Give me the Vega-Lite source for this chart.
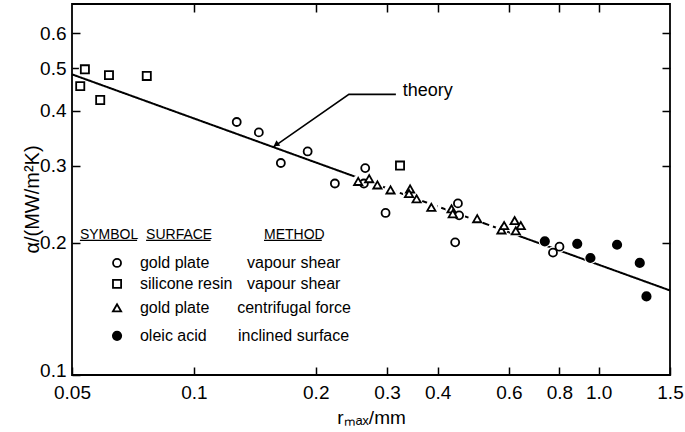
{
  "$schema": "https://vega.github.io/schema/vega-lite/v6.json",
  "width": 598,
  "height": 371,
  "autosize": {"type": "none"},
  "padding": {"left": 72, "top": 4, "right": 15, "bottom": 57},
  "background": "white",
  "config": {
    "view": {"stroke": "black", "strokeWidth": 1.8},
    "font": "Liberation Sans",
    "axis": {
      "domain": false, "grid": false,
      "tickColor": "black", "tickWidth": 1.5,
      "labelColor": "black", "titleColor": "black",
      "labelFont": "Liberation Sans", "titleFont": "Liberation Sans",
      "labelFontSize": 19, "titleFontSize": 19, "titleFontWeight": "normal"
    }
  },
  "datasets": {
    "points": [
      {"type": "silicone", "r": 0.0538, "a": 0.497},
      {"type": "silicone", "r": 0.0524, "a": 0.455},
      {"type": "silicone", "r": 0.0617, "a": 0.482},
      {"type": "silicone", "r": 0.0587, "a": 0.423},
      {"type": "silicone", "r": 0.0765, "a": 0.480},
      {"type": "silicone", "r": 0.323, "a": 0.300},
      {"type": "gold_vapour", "r": 0.1276, "a": 0.377},
      {"type": "gold_vapour", "r": 0.1447, "a": 0.357},
      {"type": "gold_vapour", "r": 0.164, "a": 0.304},
      {"type": "gold_vapour", "r": 0.191, "a": 0.323},
      {"type": "gold_vapour", "r": 0.223, "a": 0.273},
      {"type": "gold_vapour", "r": 0.265, "a": 0.296},
      {"type": "gold_vapour", "r": 0.263, "a": 0.273},
      {"type": "gold_vapour", "r": 0.2975, "a": 0.234},
      {"type": "gold_vapour", "r": 0.449, "a": 0.246},
      {"type": "gold_vapour", "r": 0.452, "a": 0.231},
      {"type": "gold_vapour", "r": 0.442, "a": 0.2005},
      {"type": "gold_vapour", "r": 0.771, "a": 0.190},
      {"type": "gold_vapour", "r": 0.80, "a": 0.196},
      {"type": "gold_centrifugal", "r": 0.2546, "a": 0.276},
      {"type": "gold_centrifugal", "r": 0.271, "a": 0.280},
      {"type": "gold_centrifugal", "r": 0.284, "a": 0.271},
      {"type": "gold_centrifugal", "r": 0.306, "a": 0.264},
      {"type": "gold_centrifugal", "r": 0.342, "a": 0.2654},
      {"type": "gold_centrifugal", "r": 0.340, "a": 0.259},
      {"type": "gold_centrifugal", "r": 0.355, "a": 0.252},
      {"type": "gold_centrifugal", "r": 0.386, "a": 0.241},
      {"type": "gold_centrifugal", "r": 0.433, "a": 0.239},
      {"type": "gold_centrifugal", "r": 0.436, "a": 0.233},
      {"type": "gold_centrifugal", "r": 0.501, "a": 0.227},
      {"type": "gold_centrifugal", "r": 0.575, "a": 0.214},
      {"type": "gold_centrifugal", "r": 0.584, "a": 0.219},
      {"type": "gold_centrifugal", "r": 0.620, "a": 0.2247},
      {"type": "gold_centrifugal", "r": 0.642, "a": 0.219},
      {"type": "gold_centrifugal", "r": 0.624, "a": 0.213},
      {"type": "oleic", "r": 0.736, "a": 0.2016},
      {"type": "oleic", "r": 0.885, "a": 0.199},
      {"type": "oleic", "r": 0.954, "a": 0.1847},
      {"type": "oleic", "r": 1.11, "a": 0.198},
      {"type": "oleic", "r": 1.263, "a": 0.180},
      {"type": "oleic", "r": 1.312, "a": 0.151}
    ],
    "theory": [
      {"seg": "solid1", "style": "solid", "r": 0.05, "a": 0.484},
      {"seg": "solid1", "style": "solid", "r": 0.255, "a": 0.2812},
      {"seg": "dash", "style": "dash", "r": 0.255, "a": 0.2812},
      {"seg": "dash", "style": "dash", "r": 0.6, "a": 0.2114},
      {"seg": "solid2", "style": "solid", "r": 0.6, "a": 0.2114},
      {"seg": "solid2", "style": "solid", "r": 1.5, "a": 0.1558}
    ],
    "leader": [
      {"k": 1, "r": 0.157, "a": 0.3305},
      {"k": 2, "r": 0.2415, "a": 0.4358},
      {"k": 3, "r": 0.3155, "a": 0.4358}
    ],
    "arrowhead": [{"r": 0.1595, "a": 0.3348}],
    "label": [{"text": "theory", "r": 0.328, "a": 0.4428}],
    "headers": [
      {"text": "SYMBOL", "r": 0.0523, "r2": 0.0724, "a": 0.2087, "u": 0.2026},
      {"text": "SURFACE", "r": 0.0762, "r2": 0.110, "a": 0.2087, "u": 0.2026},
      {"text": "METHOD", "r": 0.149, "r2": 0.207, "a": 0.2087, "u": 0.2026}
    ],
    "legsym": [
      {"type": "gold_vapour", "r": 0.0646, "a": 0.180},
      {"type": "silicone", "r": 0.0646, "a": 0.1613},
      {"type": "gold_centrifugal", "r": 0.0646, "a": 0.1422},
      {"type": "oleic", "r": 0.0646, "a": 0.1228}
    ],
    "legtext": [
      {"text": "gold plate", "r": 0.0736, "a": 0.180},
      {"text": "silicone resin", "r": 0.0736, "a": 0.1613},
      {"text": "gold plate", "r": 0.0736, "a": 0.1422},
      {"text": "oleic acid", "r": 0.0736, "a": 0.1228},
      {"text": "vapour shear", "r": 0.1353, "a": 0.180},
      {"text": "vapour shear", "r": 0.1353, "a": 0.1613},
      {"text": "centrifugal force", "r": 0.1279, "a": 0.1422},
      {"text": "inclined surface", "r": 0.1285, "a": 0.1228}
    ]
  },
  "resolve": {"axis": {"x": "independent", "y": "independent"}},
  "layer": [
    {
      "data": {"name": "theory"},
      "mark": {"type": "line", "color": "black", "strokeWidth": 2},
      "encoding": {
        "x": {"field": "r", "type": "quantitative",
          "scale": {"type": "log", "domain": [0.05, 1.5], "nice": false, "zero": false},
          "axis": {
            "orient": "bottom",
            "values": [0.05, 0.1, 0.2, 0.3, 0.4, 0.6, 0.8, 1.0, 1.5],
            "labelExpr": "datum.value == 1 ? '1.0' : format(datum.value, '.2~f')",
            "tickSize": -8, "labelPadding": 16, "labelFlush": false,
            "title": "rₘₐₓ/mm", "titleY": 48, "titleBaseline": "alphabetic"
          }},
        "y": {"field": "a", "type": "quantitative",
          "scale": {"type": "log", "domain": [0.1, 0.7], "nice": false, "zero": false},
          "axis": {
            "orient": "left",
            "values": [0.1, 0.2, 0.3, 0.4, 0.5, 0.6],
            "format": ".1f",
            "tickSize": -8, "labelPadding": 14, "labelFlush": false,
            "labelOffset": {"condition": {"test": "datum.value < 0.15", "value": -5}, "value": 0},
            "title": "α/(MW/m²K)", "titleX": -34, "titleY": 195,
            "titleAlign": "center", "titleBaseline": "alphabetic", "titleAngle": 270,
            "titleFontSize": 20
          }},
        "detail": {"field": "seg"},
        "strokeDash": {"field": "style", "type": "nominal",
          "scale": {"domain": ["solid", "dash"], "range": [[1, 0], [7, 4]]}, "legend": null}
      }
    },
    {
      "data": {"name": "leader"},
      "mark": {"type": "line", "color": "black", "strokeWidth": 1.6},
      "encoding": {
        "x": {"field": "r", "type": "quantitative", "scale": {"type": "log"},
          "axis": {"orient": "top", "values": [0.1, 0.2, 0.3, 0.4, 0.6, 0.8, 1.0], "labels": false, "tickSize": -8, "title": null}},
        "y": {"field": "a", "type": "quantitative", "scale": {"type": "log"},
          "axis": {"orient": "right", "values": [0.2, 0.3, 0.4, 0.5, 0.6], "labels": false, "tickSize": -8, "title": null}},
        "order": {"field": "k"}
      }
    },
    {
      "data": {"name": "arrowhead"},
      "mark": {"type": "point", "shape": "triangle-up", "filled": true, "color": "black", "size": 45, "angle": 236, "opacity": 1},
      "encoding": {
        "x": {"field": "r", "type": "quantitative", "scale": {"type": "log"}, "axis": null},
        "y": {"field": "a", "type": "quantitative", "scale": {"type": "log"}, "axis": null}
      }
    },
    {
      "data": {"name": "label"},
      "mark": {"type": "text", "align": "left", "baseline": "middle", "fontSize": 18, "color": "black"},
      "encoding": {
        "x": {"field": "r", "type": "quantitative", "scale": {"type": "log"}, "axis": null},
        "y": {"field": "a", "type": "quantitative", "scale": {"type": "log"}, "axis": null},
        "text": {"field": "text"}
      }
    },
    {
      "data": {"name": "points"},
      "mark": {"type": "point", "filled": true, "color": "white", "size": 150, "opacity": 1},
      "encoding": {
        "x": {"field": "r", "type": "quantitative", "scale": {"type": "log"}, "axis": null},
        "y": {"field": "a", "type": "quantitative", "scale": {"type": "log"}, "axis": null}
      }
    },
    {
      "data": {"name": "points"},
      "mark": {"type": "point", "strokeWidth": 1.8, "opacity": 1, "stroke": "black"},
      "encoding": {
        "x": {"field": "r", "type": "quantitative", "scale": {"type": "log"}, "axis": null},
        "y": {"field": "a", "type": "quantitative", "scale": {"type": "log"}, "axis": null},
        "shape": {"field": "type", "type": "nominal",
          "scale": {"domain": ["gold_vapour", "silicone", "gold_centrifugal", "oleic"], "range": ["circle", "square", "triangle-up", "circle"]}, "legend": null},
        "fill": {"field": "type", "type": "nominal",
          "scale": {"domain": ["gold_vapour", "silicone", "gold_centrifugal", "oleic"], "range": ["white", "white", "white", "black"]}, "legend": null},
        "size": {"field": "type", "type": "nominal",
          "scale": {"domain": ["gold_vapour", "silicone", "gold_centrifugal", "oleic"], "range": [64, 70, 36, 72]}, "legend": null}
      }
    },
    {
      "data": {"name": "headers"},
      "mark": {"type": "text", "align": "left", "baseline": "middle", "fontSize": 14, "color": "black"},
      "encoding": {
        "x": {"field": "r", "type": "quantitative", "scale": {"type": "log"}, "axis": null},
        "y": {"field": "a", "type": "quantitative", "scale": {"type": "log"}, "axis": null},
        "text": {"field": "text"}
      }
    },
    {
      "data": {"name": "headers"},
      "mark": {"type": "rule", "color": "black", "strokeWidth": 1.2},
      "encoding": {
        "x": {"field": "r", "type": "quantitative", "scale": {"type": "log"}, "axis": null},
        "x2": {"field": "r2"},
        "y": {"field": "u", "type": "quantitative", "scale": {"type": "log"}, "axis": null}
      }
    },
    {
      "data": {"name": "legsym"},
      "mark": {"type": "point", "strokeWidth": 1.8, "opacity": 1, "stroke": "black"},
      "encoding": {
        "x": {"field": "r", "type": "quantitative", "scale": {"type": "log"}, "axis": null},
        "y": {"field": "a", "type": "quantitative", "scale": {"type": "log"}, "axis": null},
        "shape": {"field": "type", "type": "nominal",
          "scale": {"domain": ["gold_vapour", "silicone", "gold_centrifugal", "oleic"], "range": ["circle", "square", "triangle-up", "circle"]}, "legend": null},
        "fill": {"field": "type", "type": "nominal",
          "scale": {"domain": ["gold_vapour", "silicone", "gold_centrifugal", "oleic"], "range": ["white", "white", "white", "black"]}, "legend": null},
        "size": {"field": "type", "type": "nominal",
          "scale": {"domain": ["gold_vapour", "silicone", "gold_centrifugal", "oleic"], "range": [50, 56, 30, 60]}, "legend": null}
      }
    },
    {
      "data": {"name": "legtext"},
      "mark": {"type": "text", "align": "left", "baseline": "middle", "fontSize": 16, "color": "black"},
      "encoding": {
        "x": {"field": "r", "type": "quantitative", "scale": {"type": "log"}, "axis": null},
        "y": {"field": "a", "type": "quantitative", "scale": {"type": "log"}, "axis": null},
        "text": {"field": "text"}
      }
    }
  ]
}
